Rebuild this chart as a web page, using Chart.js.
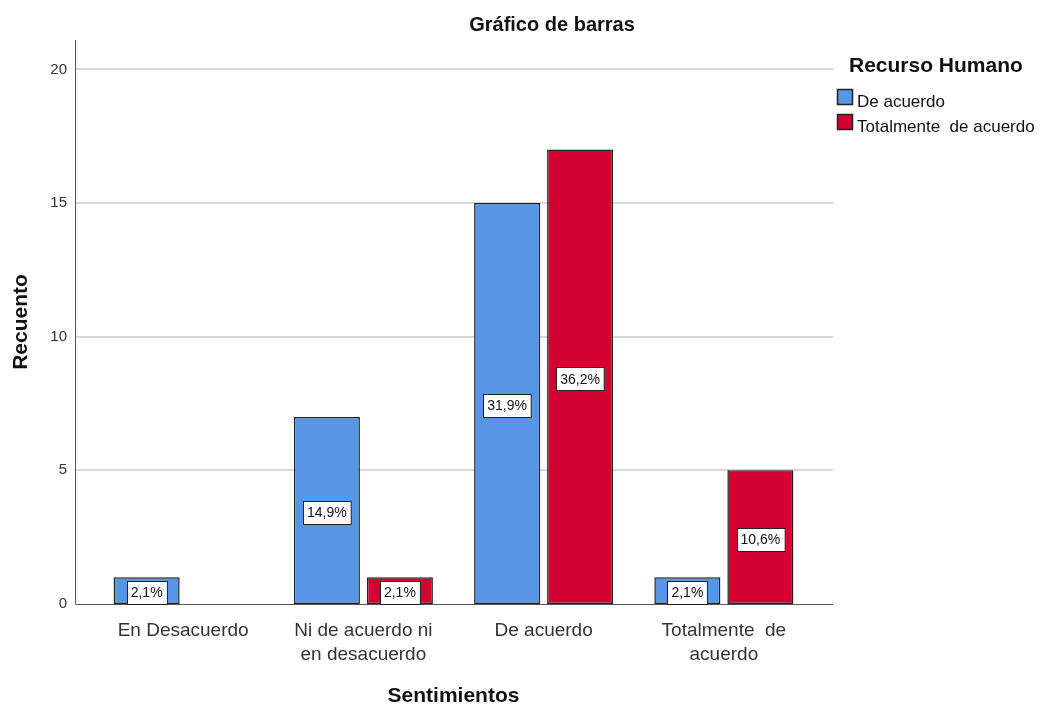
<!DOCTYPE html>
<html>
<head>
<meta charset="utf-8">
<script src="https://cdn.jsdelivr.net/npm/chart.js@4"></script>
<style>
  body { margin: 0; background: #fff; }
  canvas { display: block; }
</style>
</head>
<body>
<canvas id="bar_canvas" width="1041" height="711"></canvas>
<script>
const categories = [
    'En Desacuerdo',
    ['Ni de acuerdo ni', 'en desacuerdo'],
    'De acuerdo',
    ['Totalmente  de', 'acuerdo']
];
const deAcuerdo = [1, 7, 15, 1];
const totalmente = [0, 1, 17, 5];
const pctDeAcuerdo = ['2,1%', '14,9%', '31,9%', '2,1%'];
const pctTotalmente = ['', '2,1%', '36,2%', '10,6%'];
const seriesNames = ['De acuerdo', 'Totalmente  de acuerdo'];
const yTicks = [0, 5, 10, 15, 20];

const FONT = 'Liberation Sans, Arial, sans-serif';

// gridlines + axis lines, wider than the bar area like SPSS does
const gridPlugin = {
    id: 'grid',
    beforeDatasetsDraw(chart) {
        const ctx = chart.ctx;
        const y = chart.scales.y;
        const left = 75, right = 833;
        ctx.save();
        ctx.strokeStyle = '#d6d6d6';
        ctx.lineWidth = 2;
        y.ticks.forEach(t => {
            if (t.value === 0) return;
            const py = Math.round(y.getPixelForValue(t.value));
            ctx.beginPath();
            ctx.moveTo(left, py);
            ctx.lineTo(right, py);
            ctx.stroke();
        });
        ctx.strokeStyle = '#555';
        ctx.lineWidth = 1;
        const base = Math.round(y.getPixelForValue(0)) + 0.5;
        ctx.beginPath();
        ctx.moveTo(left + 0.5, chart.chartArea.top);
        ctx.lineTo(left + 0.5, base);
        ctx.lineTo(right, base);
        ctx.stroke();
        ctx.restore();
    }
};

// percent boxes in the middle of each bar
const labelPlugin = {
    id: 'pctLabels',
    afterDatasetsDraw(chart) {
        const ctx = chart.ctx;
        const pcts = [pctDeAcuerdo, pctTotalmente];
        ctx.save();
        ctx.font = '14px ' + FONT;
        ctx.textAlign = 'center';
        ctx.textBaseline = 'middle';
        chart.data.datasets.forEach((ds, i) => {
            chart.getDatasetMeta(i).data.forEach((bar, j) => {
                const txt = pcts[i][j];
                if (!txt || !ds.data[j]) return;
                const cy = (bar.y + bar.base) / 2 + 2;
                const w = ctx.measureText(txt).width + 8;
                const h = 23;
                const bx = Math.round(bar.x - w / 2) + 0.5;
                const by = Math.round(cy - h / 2) + 0.5;
                ctx.fillStyle = '#fff';
                ctx.fillRect(bx, by, w, h);
                ctx.strokeStyle = '#222';
                ctx.lineWidth = 1;
                ctx.strokeRect(bx, by, w, h);
                ctx.fillStyle = '#111';
                ctx.fillText(txt, bar.x, cy + 1);
            });
        });
        ctx.restore();
    }
};

// chart title and legend on the right
const sidePlugin = {
    id: 'side',
    afterDraw(chart) {
        const ctx = chart.ctx;
        ctx.save();
        ctx.fillStyle = '#111';
        ctx.textBaseline = 'alphabetic';
        ctx.textAlign = 'center';
        ctx.font = 'bold 20px ' + FONT;
        ctx.fillText('Gráfico de barras', 552, 31);

        ctx.textAlign = 'left';
        ctx.font = 'bold 21px ' + FONT;
        ctx.fillText('Recurso Humano', 849, 72);

        ctx.font = '17px ' + FONT;
        chart.data.datasets.forEach((ds, i) => {
            const top = 89 + i * 25;
            ctx.fillStyle = ds.backgroundColor;
            ctx.fillRect(837.5, top + 0.5, 15, 15);
            ctx.strokeStyle = '#222';
            ctx.lineWidth = 1.5;
            ctx.strokeRect(837.5, top + 0.5, 15, 15);
            ctx.fillStyle = '#111';
            ctx.fillText(seriesNames[i], 857, top + 18);
        });
        ctx.restore();
    }
};

const bars = document.getElementById('bar_canvas');

new Chart(bars, {
    type: 'bar',
    data: {
        labels: categories,
        datasets: [{
            label: seriesNames[0],
            data: deAcuerdo,
            backgroundColor: '#5696e4',
            borderColor: '#222',
            borderWidth: 1.5,
            borderSkipped: false,
            categoryPercentage: 0.81,
            barPercentage: 0.905
        }, {
            label: seriesNames[1],
            data: totalmente,
            backgroundColor: '#d50032',
            borderColor: '#222',
            borderWidth: 1.5,
            borderSkipped: false,
            categoryPercentage: 0.81,
            barPercentage: 0.905
        }]
    },
    options: {
        responsive: false,
        animation: false,
        devicePixelRatio: 1,
        layout: {
            padding: { top: 40, right: 227, left: 0, bottom: 0 }
        },
        plugins: {
            legend: { display: false },
            title: { display: false },
            tooltip: { enabled: false }
        },
        scales: {
            x: {
                grid: { display: false, drawTicks: false },
                border: { display: false },
                ticks: {
                    color: '#333',
                    padding: 15,
                    maxRotation: 0,
                    autoSkip: false,
                    font: { family: FONT, size: 19, lineHeight: 24 / 19 }
                },
                title: {
                    display: true,
                    text: 'Sentimientos',
                    color: '#111',
                    padding: { top: 17, bottom: 2 },
                    font: { family: FONT, size: 21, weight: 'bold', lineHeight: 1.2 }
                },
                afterFit(scale) { scale.height = 107; }
            },
            y: {
                min: 0,
                max: 21.1,
                grid: { display: false, drawTicks: false },
                border: { display: false },
                afterBuildTicks(scale) {
                    scale.ticks = yTicks.map(v => ({ value: v }));
                },
                ticks: {
                    color: '#333',
                    padding: 26,
                    font: { family: FONT, size: 15 }
                },
                title: {
                    display: true,
                    text: 'Recuento',
                    color: '#111',
                    padding: { top: 9, bottom: 0 },
                    font: { family: FONT, size: 21, weight: 'bold', lineHeight: 1.2 }
                },
                afterFit(scale) { scale.width = 93; }
            }
        }
    },
    plugins: [gridPlugin, labelPlugin, sidePlugin]
});
</script>
</body>
</html>
